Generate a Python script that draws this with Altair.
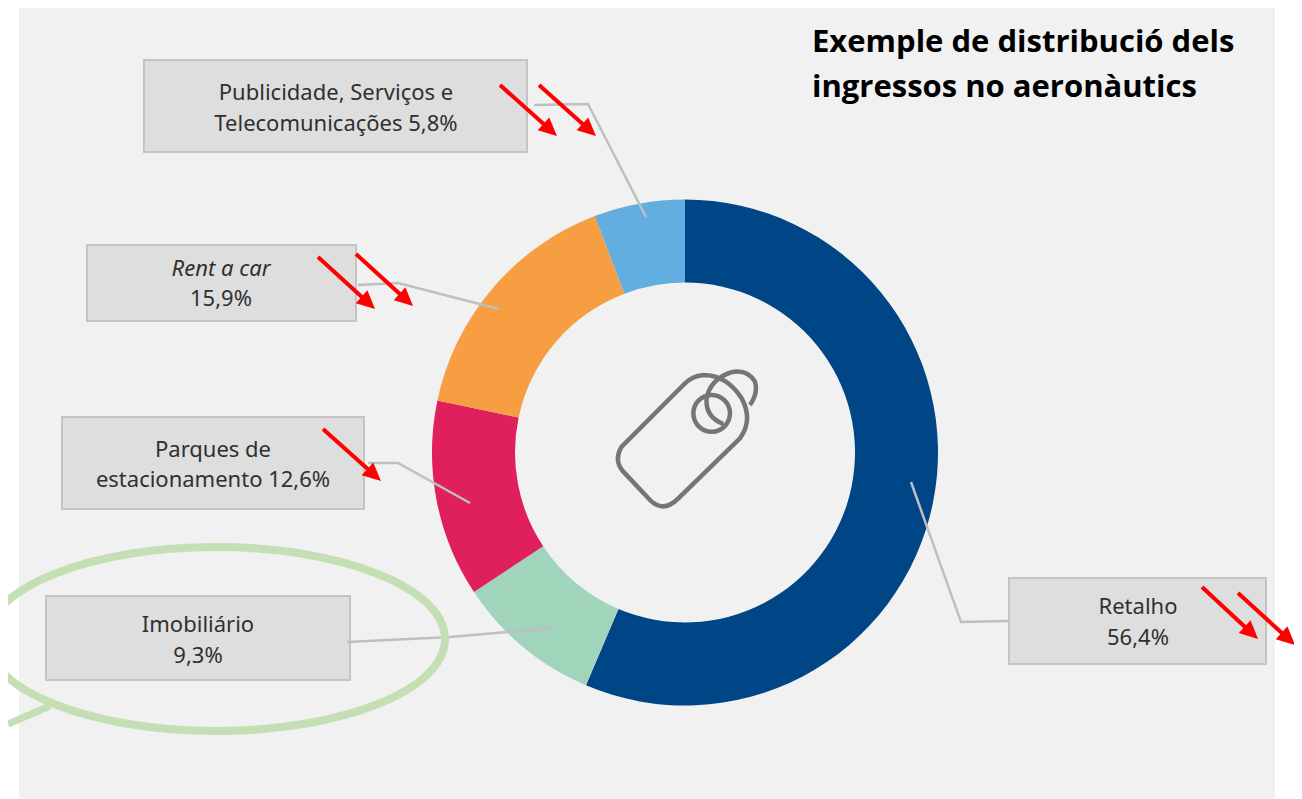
import math
import altair as alt
import pandas as pd

# Donut
categories = ["Retalho", "Imobiliário", "Parques de estacionamento", "Rent a car", "Publicidade, Serviços e Telecomunicações"]
shares = [56.4, 9.3, 12.6, 15.9, 5.8]
colors = ["#004586", "#A0D4BB", "#DF205C", "#F89E42", "#62AEE0"]

# Label boxes: x0, x1, y0, y1 in picture coordinates
box_x0 = [144, 87, 62, 46, 1009]
box_x1 = [527, 356, 364, 350, 1266]
box_y0 = [60, 245, 417, 596, 578]
box_y1 = [152, 321, 509, 680, 664]

# Label text
label_text = ["Publicidade, Serviços e", "Telecomunicações 5,8%", "Rent a car", "15,9%",
              "Parques de", "estacionamento 12,6%", "Imobiliário", "9,3%", "Retalho", "56,4%"]
label_x = [336, 336, 221, 221, 213, 213, 198, 198, 1138, 1138]
label_y = [92.5, 123.5, 268.5, 298.5, 449.5, 479.5, 624.5, 655.5, 606.5, 637.5]
label_style = ["normal", "normal", "italic", "normal", "normal", "normal", "normal", "normal", "normal", "normal"]

# Leader lines
leader_id = [0, 0, 0, 1, 1, 1, 2, 2, 2, 3, 3, 3, 4, 4, 4]
leader_x = [534, 588, 646, 358, 398, 499, 368, 398, 470, 347, 450, 555, 911, 961, 1009]
leader_y = [105, 104, 217, 285, 283, 309, 463, 463, 503, 642, 637, 628, 482, 622, 621]

# Red arrows
arrow_x0 = [500, 539, 318, 356, 323, 1202, 1238]
arrow_y0 = [85, 85, 257, 254, 429, 587, 593]
arrow_x1 = [557, 596, 375, 413, 381, 1258, 1295]
arrow_y1 = [136, 136, 309, 306, 481, 639, 645]

title_lines = ["Exemple de distribució dels", "ingressos no aeronàutics"]
title_y = [42.5, 87.5]

xs = alt.Scale(domain=[8, 1294], nice=False, zero=False)
ys = alt.Scale(domain=[8, 799], nice=False, zero=False, reverse=True)
X = lambda f: alt.X(f, scale=xs, axis=None)
Y = lambda f: alt.Y(f, scale=ys, axis=None)

panel = alt.Chart(pd.DataFrame({"a": [19], "b": [1275], "c": [8], "d": [799]})).mark_rect(
    color="#f1f1f1").encode(X("a:Q"), alt.X2("b:Q"), Y("c:Q"), alt.Y2("d:Q"))

donut_df = pd.DataFrame({"cat": categories, "val": shares, "i": range(5)})
donut = alt.Chart(donut_df).mark_arc(outerRadius=253, innerRadius=170).encode(
    theta=alt.Theta("val:Q", stack=True),
    order=alt.Order("i:Q"),
    color=alt.Color("cat:N", scale=alt.Scale(domain=categories, range=colors), legend=None),
    x=alt.value(685 - 8),
    y=alt.value(452.5 - 8),
)

boxes = alt.Chart(pd.DataFrame({"a": box_x0, "b": box_x1, "c": box_y0, "d": box_y1})).mark_rect(
    fill="#dedede", stroke="#c4c4c4", strokeWidth=2).encode(X("a:Q"), alt.X2("b:Q"), Y("c:Q"), alt.Y2("d:Q"))

leaders = alt.Chart(pd.DataFrame({"id": leader_id, "x": leader_x, "y": leader_y, "o": range(len(leader_x))})).mark_line(
    color="#bfbfbf", strokeWidth=2.5).encode(X("x:Q"), Y("y:Q"), detail="id:N", order="o:Q")

label_df = pd.DataFrame({"t": label_text, "x": label_x, "y": label_y, "s": label_style})
FONT = "Noto Sans"
labels_n = alt.Chart(label_df[label_df.s == "normal"]).mark_text(
    font=FONT, fontSize=22, color="#303030", baseline="middle", align="center").encode(X("x:Q"), Y("y:Q"), text="t:N")
labels_i = alt.Chart(label_df[label_df.s == "italic"]).mark_text(
    font=FONT, fontSize=22, fontStyle="italic", color="#303030", baseline="middle", align="center").encode(X("x:Q"), Y("y:Q"), text="t:N")

title = alt.Chart(pd.DataFrame({"t": title_lines, "x": [812, 812], "y": title_y})).mark_text(
    font="Open Sans", fontWeight="bold", fontSize=31, color="#000000", baseline="middle", align="left").encode(
    X("x:Q"), Y("y:Q"), text="t:N")

# Tag icon, path drawn with units of a third of a pixel
TAG_BODY = ("M280 105 L95 290 Q70 330 100 365 L180 450 Q220 490 265 445 L450 265 Q490 210 455 145 "
            "Q410 75 340 75 Q305 78 280 105 Z "
            "M310 190 A55 55 0 1 0 420 190 A55 55 0 1 0 310 190 "
            "M400 222 Q345 200 350 145 Q360 90 420 68 Q470 55 495 95 Q505 130 480 165")
tag = alt.Chart(pd.DataFrame({"x": [590], "y": [350]})).mark_point(
    shape=TAG_BODY, size=0.4444, filled=False, stroke="#757575", strokeWidth=4.5, opacity=1).encode(X("x:Q"), Y("y:Q"))

# Green callout
ELLIPSE = "M-229 0 A229 92 0 1 0 229 0 A229 92 0 1 0 -229 0 Z"
ellipse = alt.Chart(pd.DataFrame({"x": [216], "y": [639]})).mark_point(
    shape=ELLIPSE, size=4, filled=False, stroke="#c5dfb4", strokeWidth=8, opacity=1).encode(X("x:Q"), Y("y:Q"))
tail = alt.Chart(pd.DataFrame({"x": [50, 8], "y": [706, 724]})).mark_line(
    color="#c5dfb4", strokeWidth=7).encode(X("x:Q"), Y("y:Q"))

# Arrows
rows = []
for a, b, c, d in zip(arrow_x0, arrow_y0, arrow_x1, arrow_y1):
    L = math.hypot(c - a, d - b)
    rows.append({"x": a, "y": b, "x2": c - (c - a) / L * 10, "y2": d - (d - b) / L * 10,
                 "tx": c, "ty": d, "ang": 90 + math.degrees(math.atan2(d - b, c - a))})
arrow_df = pd.DataFrame(rows)
shafts = alt.Chart(arrow_df).mark_rule(color="#ff0000", strokeWidth=4).encode(
    X("x:Q"), alt.X2("x2:Q"), Y("y:Q"), alt.Y2("y2:Q"))
HEAD = "M0 0 L-1 2.1 L1 2.1 Z"
heads = alt.Chart(arrow_df).mark_point(
    shape=HEAD, size=300, filled=True, color="#ff0000", opacity=1).encode(
    X("tx:Q"), Y("ty:Q"), angle=alt.Angle("ang:Q", scale=None))

chart = alt.layer(panel, donut, boxes, leaders, labels_n, labels_i, title, tag, ellipse, tail, shafts, heads).properties(
    width=1286, height=791, padding=0, background="#ffffff",
    autosize=alt.AutoSizeParams(type="none"),
).configure_view(stroke=None)

chart.save("out.html", embed_options={"renderer": "svg", "actions": False})
